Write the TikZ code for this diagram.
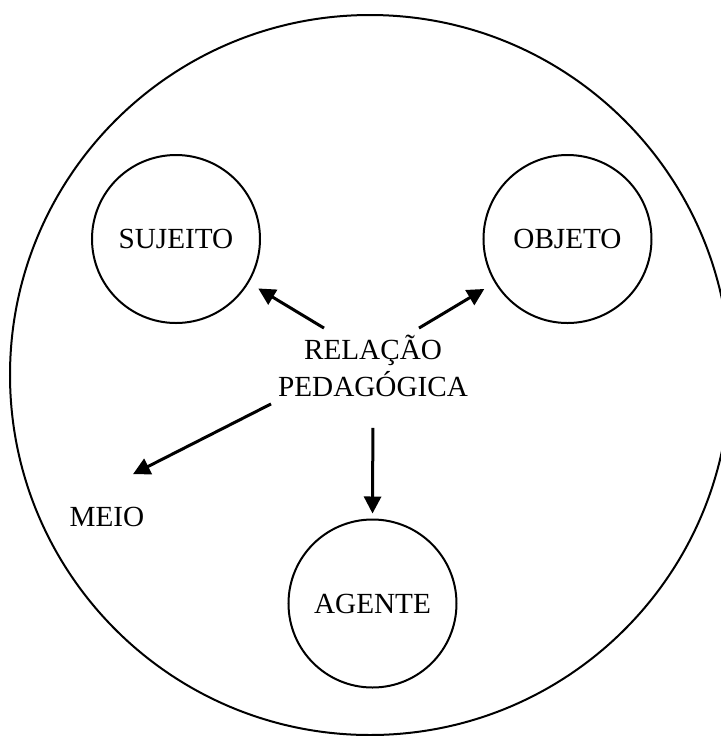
\documentclass[tikz,border=0pt]{standalone}
\usepackage{fontspec}
\setmainfont{Liberation Serif}
\usetikzlibrary{arrows.meta,positioning}

\begin{document}
\begin{tikzpicture}[
        x=0.5pt, y=-0.5pt,
        font=\fontsize{14.6}{18.5}\selectfont,
        ring/.style={circle, draw, line width=1pt, minimum size=84pt, inner sep=0pt},
        label/.style={align=center},
        arrow/.style={line width=1.5pt, -{Triangle[length=8.5pt,width=8.5pt]}}
    ]
        \useasboundingbox (0,0) rectangle (721,736);

% Outer circle
        \node[circle, draw, line width=1pt, minimum size=360pt, inner sep=0pt] (ambiente) at (370,375) {};

% The three circles
        \node[ring] (sujeito) at (176,239) {SUJEITO};
        \node[ring] (objeto) at (567.5,239) {OBJETO};
        \node[ring] (agente) at (372.5,603.5) {AGENTE};

% Centre and medium
        \node[label] (relacao) at (373,366) {RELAÇÃO\\ PEDAGÓGICA};
        \node[label] (meio) at (107,517) {MEIO};

% Arrows
        \draw[arrow, shorten >=5.5pt] ([xshift=-24.5pt]relacao.north) -- (sujeito.-31);
        \draw[arrow, shorten >=6pt] ([xshift=23pt]relacao.north) -- (objeto.211);
        \draw[arrow, shorten <=12pt, shorten >=2.5pt] (relacao.south) -- (agente.north);
        \draw[arrow] (relacao.south west) -- ([shift={(26,-26)}]meio.north);

    \end{tikzpicture}
\end{document}
